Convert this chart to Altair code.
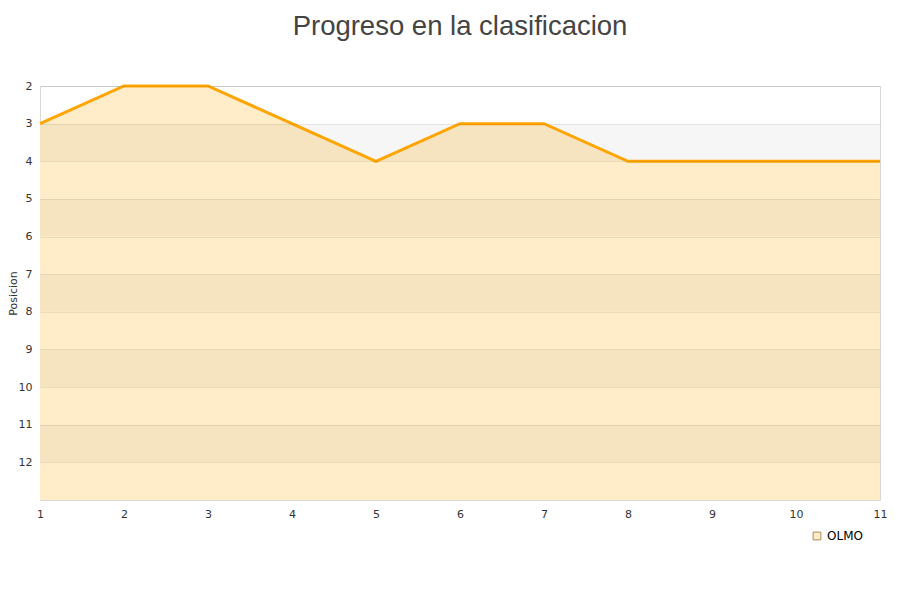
import altair as alt
import pandas as pd

jornadas = [1, 2, 3, 4, 5, 6, 7, 8, 9, 10, 11]
posiciones = [3, 2, 2, 3, 4, 3, 3, 4, 4, 4, 4]
serie = "OLMO"
band_starts = [3, 5, 7, 9, 11]
y_ticks = [2, 3, 4, 5, 6, 7, 8, 9, 10, 11, 12]

df = pd.DataFrame({"jornada": jornadas, "pos": posiciones, "serie": [serie] * len(jornadas)})
bands = pd.DataFrame({"y0": band_starts, "y1": [b + 1 for b in band_starts]})

xs = alt.Scale(domain=[1, 11], nice=False, zero=False)
ys = alt.Scale(domain=[2, 13], reverse=True, nice=False, zero=False)

area = alt.Chart(df).mark_area(opacity=1, line=False).encode(
    x=alt.X("jornada:Q", scale=xs,
            axis=alt.Axis(title=None, values=jornadas, format="d", grid=False, ticks=False,
                          domain=False, labelColor="#333", labelFontSize=11, labelPadding=8,
                          labelFlush=False, labelFont="DejaVu Sans")),
    y=alt.Y("pos:Q", scale=ys,
            axis=alt.Axis(title="Posicion", values=y_ticks, format="d", grid=True,
                          gridColor="#000000", gridOpacity=0.07, ticks=False, domain=False,
                          zindex=1,
                          labelColor="#333", labelFontSize=11, labelPadding=8,
                          titleFontSize=11, titleFontWeight="normal", titleColor="#333",
                          titleX=-27, titleY=207, titleAngle=-90, titleBaseline="middle",
                          titleAlign="center",
                          labelFont="DejaVu Sans", titleFont="DejaVu Sans")),
    y2=alt.datum(13),
    color=alt.Color("serie:N", scale=alt.Scale(range=["#FFECC8"]),
                    legend=alt.Legend(title=None, orient="none", legendX=771, legendY=444,
                                      symbolType="square", symbolSize=60,
                                      symbolStrokeColor="#b08850", symbolStrokeWidth=1,
                                      labelFontSize=12, labelColor="#000",
                                      labelFont="DejaVu Sans")),
)

band = alt.Chart(bands).mark_rect(color="#000000", opacity=0.035).encode(
    y=alt.Y("y0:Q", scale=ys),
    y2="y1:Q",
    x=alt.value(0),
    x2=alt.value(840),
)

line = alt.Chart(df).mark_line(color="#FFA500", strokeWidth=3).encode(
    x=alt.X("jornada:Q", scale=xs),
    y=alt.Y("pos:Q", scale=ys),
)

chart = alt.layer(area, band, line).properties(
    width=840, height=414,
    title=alt.TitleParams("Progreso en la clasificacion", fontSize=27.5, fontWeight="normal",
                          color="#444", font="Liberation Sans", anchor="middle", offset=40),
    autosize=alt.AutoSizeParams(type="none"),
    padding={"left": 32, "top": 78, "right": 12, "bottom": 80},
).configure_view(stroke="#d9d9d9", strokeWidth=1)

chart.save("out.html", embed_options={"renderer": "svg", "actions": False})
